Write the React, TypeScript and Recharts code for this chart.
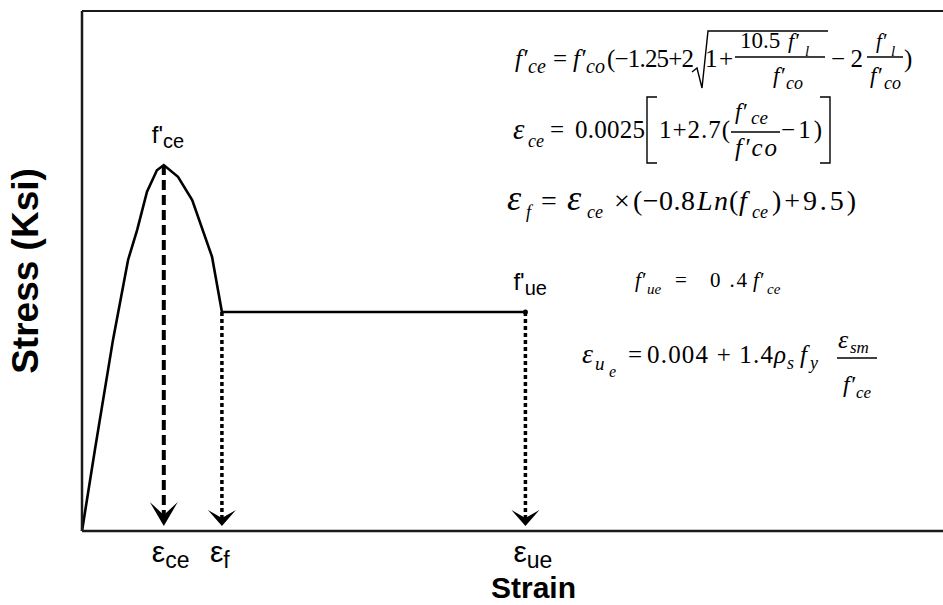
import React from "react";
import { ComposedChart, Line, XAxis, YAxis, ReferenceLine, ReferenceDot } from "recharts";

// stress-strain sketch, values (strain in/in, stress ksi)
const strainPts = [0, 0.0003, 0.00072, 0.00107, 0.00128, 0.00151, 0.00174, 0.0019, 0.00223, 0.00256, 0.00302, 0.00325, 0.0103];
const stressPts = [0, 1.25, 2.94, 4.17, 4.63, 5.22, 5.55, 5.63, 5.45, 5.09, 4.22, 3.37, 3.37];

// εce, εf, εue and the stress where each drop line starts
const keyStrains = [0.0019, 0.00325, 0.0103];
const keyStress = [5.63, 3.37, 3.37];
const strainSubs = ["ce", "f", "ue"];

// f'ce at the peak, f'ue at the end of the plateau
const stressLabelIdx = [0, 2];
const stressSubs = ["ce", "ue"];

const data = strainPts.map((x, i) => ({ x, y: stressPts[i] }));

const sans = "'Liberation Sans', Arial, sans-serif";
const serif = "'Liberation Serif', 'Times New Roman', serif";

function StrainTick(props: any) {
  const { x, y, payload } = props;
  const i = keyStrains.indexOf(payload.value);
  return (
    <text x={x - 12} y={y + 31} fontFamily={sans} fontSize={30} fill="#000">
      ε<tspan fontSize={23} dy={6}>{strainSubs[i]}</tspan>
    </text>
  );
}

function StrainTitle(props: any) {
  const vb = props.viewBox || { x: 0, y: 0, width: 0, height: 0 };
  return (
    <text x={vb.x + vb.width / 2 + 21} y={vb.y + 67} textAnchor="middle"
      fontFamily={sans} fontWeight="bold" fontSize={30} fill="#000">Strain</text>
  );
}

function StressTitle(props: any) {
  const vb = props.viewBox || { x: 0, y: 0, width: 0, height: 0 };
  const cx = 38, cy = vb.y + vb.height / 2;
  return (
    <text x={cx} y={cy} textAnchor="middle" transform={`rotate(-90 ${cx} ${cy})`}
      fontFamily={sans} fontWeight="bold" fontSize={37} fill="#000">Stress (Ksi)</text>
  );
}

// dashed drop line ending in a chevron arrow head on the strain axis
const dropArrow = (dash: string, sw: number, wing: number, notch: number) => (p: any) => {
  const { x1, y1, y2 } = p;
  const tip = y2 - 5;
  return (
    <g>
      <line x1={x1} y1={y1} x2={x1} y2={tip - notch + 2} stroke="#000" strokeWidth={sw} strokeDasharray={dash} />
      <path d={`M${x1} ${tip} L${x1 - 14} ${tip - wing} L${x1} ${tip - notch} L${x1 + 14} ${tip - wing} Z`} fill="#000" />
    </g>
  );
};

const stressLabel = (sub: string) => (p: any) => {
  const { cx, cy } = p;
  return (
    <text x={cx - 12} y={cy - 22} fontFamily={sans} fontSize={24} fill="#000">
      f'<tspan fontSize={20} dy={5}>{sub}</tspan>
    </text>
  );
};

function tx(t: string, x: number, y: number, s: number, it = false, w?: number) {
  return (
    <text key={`${t}-${x}-${y}`} x={x} y={y} fontSize={s} fontStyle={it ? "italic" : "normal"}
      textLength={w} lengthAdjust={w ? "spacing" : undefined}>{t}</text>
  );
}

function Equations() {
  return (
    <svg width={943} height={605} style={{ position: "absolute", left: 0, top: 0, pointerEvents: "none" }}
      fontFamily={serif} fill="#000">
      {/* f'ce */}
      {tx("f′", 515, 67, 25, true)}
      {tx("ce", 528, 73, 20, true)}
      {tx("=", 553, 67, 25)}
      {tx("f′", 573, 67, 25, true)}
      {tx("co", 586, 73, 20, true)}
      {tx("(−1.25+2", 607, 67, 25, false, 87)}
      <path d="M692 72 L697 68 L702 88 L708 31 L828 31" fill="none" stroke="#000" strokeWidth={1.4} />
      {tx("1+", 705, 67, 25, false, 28)}
      {tx("10.5", 740, 48, 23)}
      {tx("f′", 788, 48, 22, true)}
      {tx("l", 805, 56, 15, true)}
      <line x1={735} x2={825} y1={57} y2={57} stroke="#000" strokeWidth={1.3} />
      {tx("f′", 773, 83, 23, true)}
      {tx("co", 786, 89, 18, true)}
      {tx("−2", 831, 67, 25, false, 32)}
      {tx("f′", 876, 48, 21, true)}
      {tx("l", 891, 56, 15, true)}
      <line x1={867} x2={903} y1={57} y2={57} stroke="#000" strokeWidth={1.3} />
      {tx("f′", 870, 83, 23, true)}
      {tx("co", 884, 89, 18, true)}
      {tx(")", 904, 67, 25)}

      {/* εce */}
      {tx("ε", 513, 139, 29, true)}
      {tx("ce", 528, 147, 18, true)}
      {tx("=", 550, 138, 25)}
      {tx("0.0025", 575, 138, 25, false, 70)}
      <path d="M657 97 H647 V163 H657" fill="none" stroke="#000" strokeWidth={1.4} />
      {tx("1+2.7(", 659, 138, 25, false, 71)}
      {tx("f′", 735, 119, 23, true)}
      {tx("ce", 751, 124, 19, true)}
      <line x1={731} x2={780} y1={132} y2={132} stroke="#000" strokeWidth={1.3} />
      {tx("f′co", 735, 156, 25, true, 42)}
      {tx("−1)", 781, 138, 25, false, 41)}
      <path d="M820 97 H830 V163 H820" fill="none" stroke="#000" strokeWidth={1.4} />

      {/* εf */}
      {tx("ε", 507, 210, 36, true)}
      {tx("f", 526, 218, 18, true)}
      {tx("=", 541, 210, 28)}
      {tx("ε", 567, 210, 36, true)}
      {tx("ce", 587, 218, 18, true)}
      {tx("×", 614, 210, 28)}
      {tx("(−0.8", 633, 210, 28, false, 62)}
      {tx("Ln", 697, 210, 28, true, 31)}
      {tx("(", 729, 210, 28)}
      {tx("f", 739, 210, 28, true)}
      {tx("ce", 752, 218, 18, true)}
      {tx(")+9.5)", 772, 210, 28, false, 84)}

      {/* f'ue */}
      {tx("f′", 635, 287, 21, true)}
      {tx("ue", 647, 294, 15, true)}
      {tx("=", 675, 287, 21)}
      {tx("0 .4", 710, 287, 21, false, 37)}
      {tx("f′", 753, 287, 21, true)}
      {tx("ce", 767, 294, 15, true)}

      {/* εue */}
      {tx("ε", 582, 363, 28, true)}
      {tx("u", 595, 370, 19, true)}
      {tx("e", 609, 377, 16, true)}
      {tx("=", 628, 363, 25)}
      {tx("0.004 + 1.4", 647, 363, 25, false, 126)}
      {tx("ρ", 774, 363, 25, true)}
      {tx("s", 787, 369, 18, true)}
      {tx("f", 800, 363, 25, true)}
      {tx("y", 810, 369, 18, true)}
      {tx("ε", 838, 348, 26, true)}
      {tx("sm", 850, 353, 17, true)}
      <line x1={837} x2={877} y1={358} y2={358} stroke="#000" strokeWidth={1.3} />
      {tx("f′", 843, 392, 24, true)}
      {tx("ce", 856, 398, 17, true)}
    </svg>
  );
}

export default function App() {
  return (
    <div style={{ position: "absolute", left: 0, top: 0, width: 943, height: 605, background: "#fff" }}>
      <ComposedChart width={943} height={605} data={data} margin={{ top: 11, right: 0, bottom: 14, left: 22 }}>
        <XAxis type="number" dataKey="x" domain={[0, 0.02]} ticks={keyStrains} tick={<StrainTick />}
          tickLine={false} tickSize={0} tickMargin={0} height={60} interval={0}
          axisLine={{ stroke: "#1a1a1a", strokeWidth: 2.5 }} label={<StrainTitle />} />
        <YAxis type="number" domain={[0, 8]} tick={false} tickLine={false} width={60}
          axisLine={{ stroke: "#1a1a1a", strokeWidth: 2.5 }} label={<StressTitle />} />
        <ReferenceLine y={8} stroke="#1a1a1a" strokeWidth={2} />
        <Line dataKey="y" type="linear" stroke="#000" strokeWidth={2.6} dot={false} isAnimationActive={false} />
        <ReferenceLine segment={[{ x: keyStrains[0], y: keyStress[0] }, { x: keyStrains[0], y: 0 }]}
          shape={dropArrow("10 5", 4, 24, 11)} />
        <ReferenceLine segment={[{ x: keyStrains[1], y: keyStress[1] }, { x: keyStrains[1], y: 0 }]}
          shape={dropArrow("4 3", 3.5, 16, 8)} />
        <ReferenceLine segment={[{ x: keyStrains[2], y: keyStress[2] }, { x: keyStrains[2], y: 0 }]}
          shape={dropArrow("4 3", 3.5, 16, 8)} />
        <ReferenceDot x={keyStrains[2]} y={keyStress[2]} r={2.5} fill="#000" stroke="none" />
        {stressLabelIdx.map((k, j) => (
          <ReferenceDot key={k} x={keyStrains[k]} y={keyStress[k]} r={0} shape={stressLabel(stressSubs[j])} />
        ))}
      </ComposedChart>
      <Equations />
    </div>
  );
}
